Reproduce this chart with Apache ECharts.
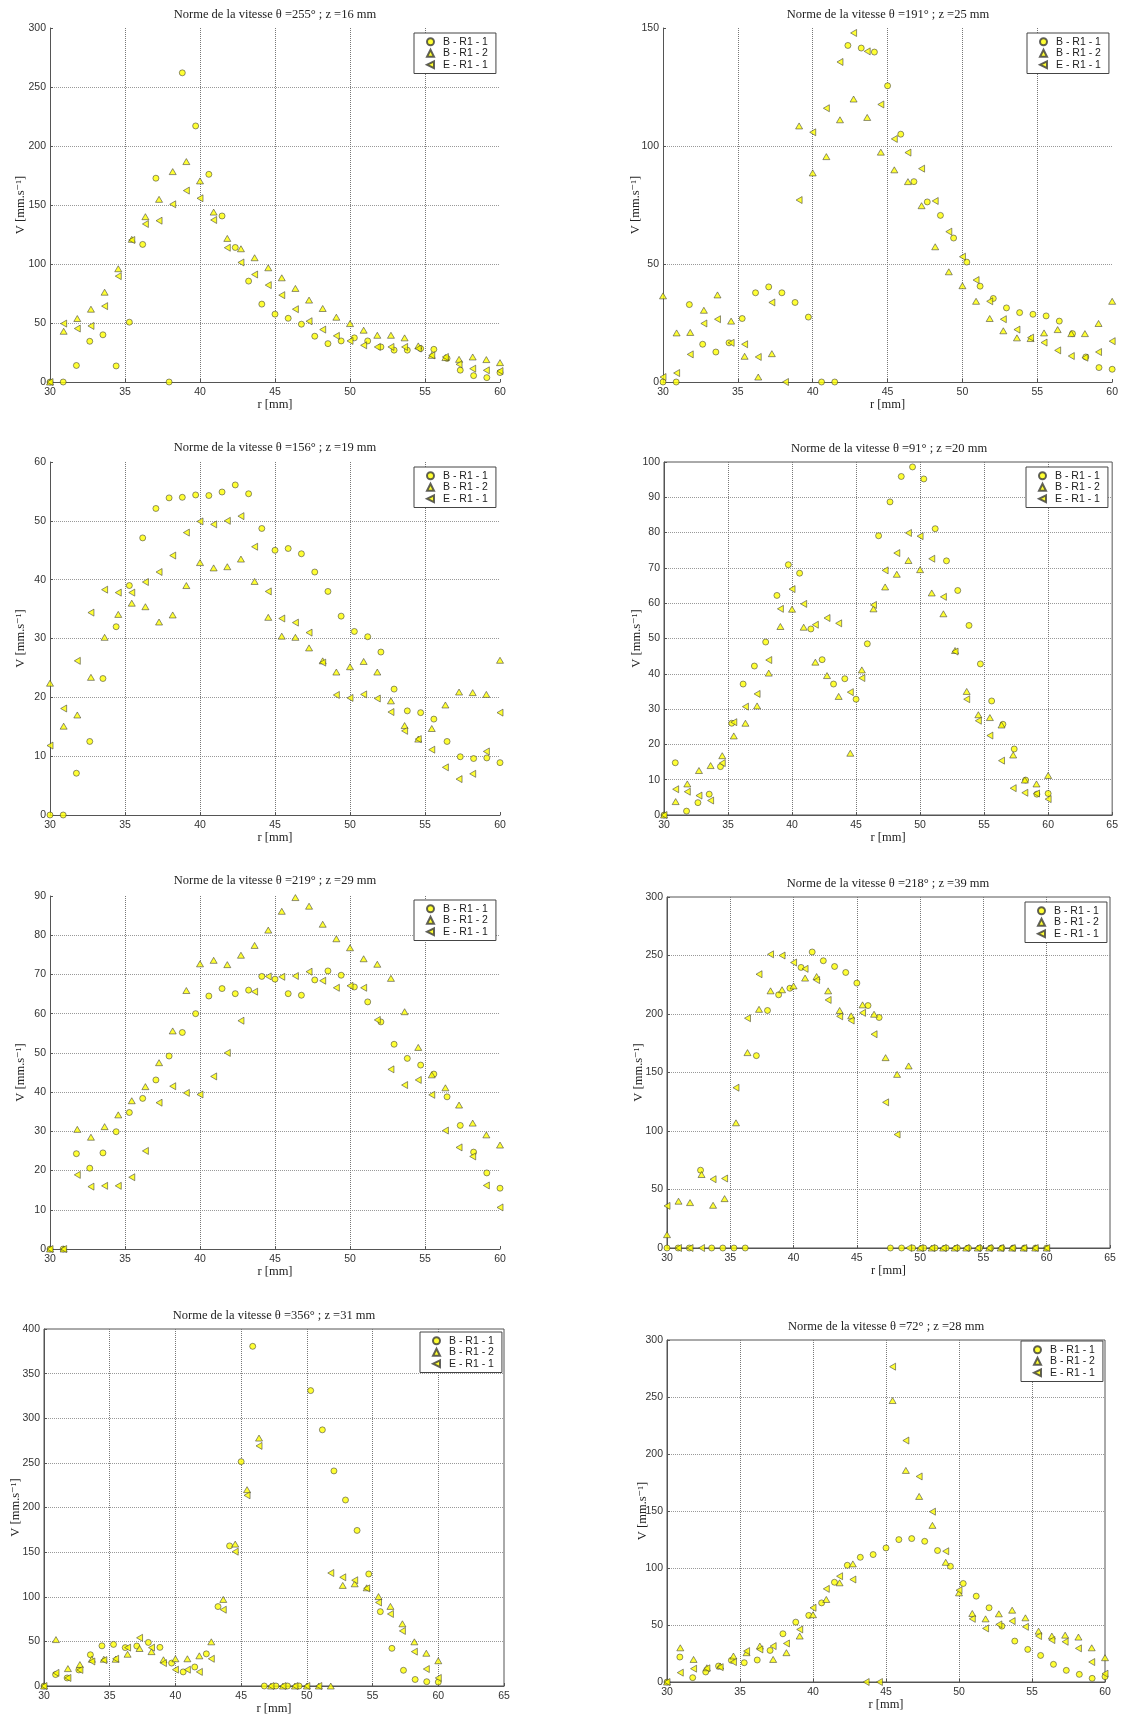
<!DOCTYPE html>
<html>
<head>
<meta charset="utf-8">
<script src="https://cdn.jsdelivr.net/npm/echarts@6/dist/echarts.min.js"></script>
<style>html,body{margin:0;padding:0;background:#fff;}#c{width:1121px;height:1724px;}</style>
</head>
<body>
<div id="c"></div>
<script>
// radial positions (mm) of the two measurement grids
const rA = [30,30.88,31.76,32.65,33.53,34.41,35.29,36.18,37.06,37.94,38.82,39.71,40.59,41.47,42.35,43.24,44.12,45,45.88,46.76,47.65,48.53,49.41,50.29,51.18,52.06,52.94,53.82,54.71,55.59,56.47,57.35,58.24,59.12,60];
const rB = [30,30.91,31.82,32.73,33.64,34.55,35.45,36.36,37.27,38.18,39.09,40,40.91,41.82,42.73,43.64,44.55,45.45,46.36,47.27,48.18,49.09,50,50.91,51.82,52.73,53.64,54.55,55.45,56.36,57.27,58.18,59.09,60];

const seriesNames = ['B - R1 - 1','B - R1 - 2','E - R1 - 1'];
const titles = [
  'Norme de la vitesse θ =255° ; z =16 mm',
  'Norme de la vitesse θ =191° ; z =25 mm',
  'Norme de la vitesse θ =156° ; z =19 mm',
  'Norme de la vitesse θ =91° ; z =20 mm',
  'Norme de la vitesse θ =219° ; z =29 mm',
  'Norme de la vitesse θ =218° ; z =39 mm',
  'Norme de la vitesse θ =356° ; z =31 mm',
  'Norme de la vitesse θ =72° ; z =28 mm'
];

// Panel 1
const p1_B1 = [0,0,14,34.5,40,13.6,50.7,116.6,172.7,0,262,217,176,140.7,114,85.5,66,57.5,54,49,38.8,32.5,34.8,37.4,34.8,29.7,27,27,28.3,27.7,20,10,5.4,3.7,8];
const p1_B2 = [0,43,53.8,61.7,76.1,96,120.9,140.1,154.8,178.3,186.8,170.4,144,121.7,112.9,105.3,96.8,88.3,79.3,69.4,62.3,54.9,49.5,43.9,39.6,39.6,37.4,30.6,22.6,20.7,19.2,21.2,19,16.4];
const p1_E1 = [0,49.5,45.3,47.5,64.3,89.7,120.3,133.9,136.7,150.6,162.2,155.7,137.3,113.8,101.3,91.1,82.1,73.6,61.7,51.5,44.4,39.1,34.8,31.1,29.7,29.7,29.7,28.3,22.6,21.2,15,11.3,9.9,9.3];
// Panel 2
const p2_B1 = [0,0,32.8,16,12.7,16.6,26.9,37.8,40.3,37.8,33.7,27.5,0,0,142.6,141.5,139.8,125.5,105,84.9,76.3,70.6,61,50.8,40.6,35.4,31.4,29.4,28.7,28,25.8,20.5,10.6,6.1,5.4];
const p2_B2 = [36.5,20.8,21,30.4,36.9,25.8,10.9,2.1,12,null,108.5,88.6,95.5,111.1,119.9,112.1,97.4,89.9,84.9,74.7,57.3,46.7,40.8,34.2,26.9,21.7,18.7,18.4,20.8,22.2,20.5,20.5,24.8,34.2];
const p2_E1 = [2.1,3.8,11.7,24.8,26.6,16.6,16,10.6,33.7,0,77.1,105.8,116,135.6,147.9,140.1,117.6,103,97.2,90.4,76.7,63.7,53.1,43.2,34.2,26.6,22.2,18.8,16.7,13.4,11,10.3,12.7,17.3];
// Panel 3
const p3_B1 = [0,0,7.1,12.5,23.2,32,39,47.1,52.1,53.9,54,54.4,54.3,54.9,56.1,54.6,48.7,45,45.3,44.4,41.3,38,33.8,31.2,30.3,27.7,21.4,17.7,17.4,16.3,12.5,9.9,9.6,9.7,8.9];
const p3_B2 = [22.4,15.1,17,23.4,30.2,34.1,36,35.4,32.8,34,39,42.9,42,42.2,43.5,39.7,33.6,30.4,30.2,28.4,26.2,24.3,25.2,26.1,24.3,19.4,15.2,12.9,14.7,18.7,20.9,20.8,20.5,26.3];
const p3_E1 = [11.8,18.1,26.2,34.4,38.3,37.8,37.8,39.6,41.3,44.1,48,49.9,49.4,50,50.8,45.6,38,33.4,32.7,31,25.9,20.4,19.9,20.5,19.8,17.5,14.3,12.9,11.1,8.1,6.1,7,10.8,17.4];
// Panel 4
const p4_B1 = [0,14.8,1.1,3.5,5.9,13.7,26,37.1,42.2,49,62.2,70.9,68.5,52.7,44,37.1,38.6,32.8,48.5,79.1,88.7,95.9,98.6,95.2,81.1,72,63.6,53.7,42.8,32.3,25.7,18.7,9.9,5.9,6.1];
const p4_B2 = [0,3.8,8.8,12.6,14,16.8,22.4,26,30.9,40.2,53.4,58.3,53.2,43.3,39.5,33.6,17.5,41.1,58.4,64.6,68.2,72.1,69.5,62.9,57,46.6,35,28.4,27.6,25.5,17,9.9,8.8,11.2];
const p4_E1 = [0,7.3,6.6,5.5,4.1,14.7,26.3,30.7,34.3,43.9,58.4,64,59.8,53.9,55.8,54.3,34.8,38.8,59.5,69.3,74.2,79.9,79,72.6,61.8,46.3,32.8,26.7,22.5,15.4,7.6,6.3,6.1,4.5];
// Panel 5
const p5_B1 = [0,0,24.3,20.6,24.5,29.9,34.8,38.4,43.1,49.2,55.2,60,64.5,66.4,65.1,66,69.5,68.8,65.1,64.7,68.6,70.9,69.8,66.8,63,57.9,52.2,48.6,46.9,44.6,38.8,31.5,24.7,19.4,15.5];
const p5_B2 = [0,0,30.5,28.5,31.2,34.2,37.8,41.4,47.5,55.6,65.9,72.7,73.6,72.5,74.9,77.4,81.3,86.1,89.6,87.4,82.8,79.1,76.8,74,72.6,69,60.5,51.4,44.4,41.1,36.7,32.1,29.1,26.5];
const p5_E1 = [0,0,18.9,15.9,16.1,16.1,18.3,25,37.3,41.5,39.8,39.4,44,50,58.2,65.6,69.5,69.4,69.6,70.7,68.4,66.6,67.1,66.6,58.4,45.8,41.8,43.1,39.3,30.2,25.9,23.6,16.2,10.6];
// Panel 6
const p6_B1 = [0,0,0,66.5,0,0,0,0,164.4,203,216.4,222,239.8,253,245.5,240.6,235.5,226.4,207.2,197,0,0,0,0,0,0,0,0,0,0,0,0,0,0,0];
const p6_B2 = [11.4,40,38.8,62.8,36.5,42.2,107,167,204,219.8,220.7,224,230.7,232,219.8,203,198.4,207.8,199.8,162.7,148.4,155.6,0,0,0,0,0,0,0,0,0,0,0,0];
const p6_E1 = [36,0,0,0,58.8,59.4,137,196.4,234,251,250,244,238.6,229,212,198,194.4,201,182.7,124.5,97,0,0,0,0,0,0,0,0,0,0,0,0,0];
// Panel 7
const p7_B1 = [0,12.8,9,18,35,45,46.6,43,44.8,48.8,43.3,25.7,15.8,21.3,36,89,157,251.4,380.6,0,0,0,0,331,287,241,208.4,174.3,125.5,83.3,42.2,17.6,7.3,4.8,4.4];
const p7_B2 = [0,52,19.5,24,30,30,30,35.6,42,38.5,29.4,30.5,30.5,33.8,49.5,97,159,220,277.8,0,0,0,0,0,0,112.7,114.5,110,100.2,89.2,69.7,49.5,36.7,28.3];
const p7_E1 = [0,14.7,9,18,27.5,29,30.5,43,54,43,25.7,18.3,18.3,15.8,30.5,85.5,150.5,213.6,269,0,0,0,0,0,126.6,121.8,118.5,109.4,93.6,80.7,61.7,38.5,19,9];
// Panel 8
const p8_B1 = [0,21.9,3.8,8.8,14,19,16.9,19.3,27.7,42.3,52.5,58.4,69.4,87.5,102.4,109.4,111.8,117.6,124.9,125.8,123.4,115.3,101.5,86.4,75.3,65.1,49,35.9,28.6,23.3,15.5,10.2,6.7,3.2,4.7];
const p8_B2 = [0,30,19.8,12.5,14,22.8,25.7,31.5,19.8,25.7,40.3,59,72.4,87,103.6,null,null,246.9,185.6,162.8,137.4,105,78.2,60.1,55.4,59.8,63,56.3,44.6,40.3,41.1,39.4,30,21.3];
const p8_E1 = [0,8.2,11.7,12,13,17.5,27.1,28.6,31.5,33.8,46.1,65.1,81.7,92.8,89.9,0,0,276.6,211.8,180.3,149.4,114.7,80.5,55.4,47,50.5,53.4,48.4,40.3,36.8,35.3,29.5,17.5,7.3];

const panelData = [
  [p1_B1,p1_B2,p1_E1],[p2_B1,p2_B2,p2_E1],[p3_B1,p3_B2,p3_E1],[p4_B1,p4_B2,p4_E1],
  [p5_B1,p5_B2,p5_E1],[p6_B1,p6_B2,p6_E1],[p7_B1,p7_B2,p7_E1],[p8_B1,p8_B2,p8_E1]
];
const xMaxs = [60,60,60,65,60,65,65,60];
const yMaxs = [300,150,60,100,90,300,400,300];
const yIntervals = [50,50,10,10,10,50,50,50];

// layout (pixels)
const layout = [
  {left:50,  top:28,   width:450, height:354, box:false, tx:275, ty:8.5,    lg:[414,33],   yGap:23},
  {left:663, top:28,   width:450, height:354, box:false, tx:888, ty:8.5,    lg:[1027,33],  yGap:21},
  {left:50,  top:462,  width:450, height:353, box:false, tx:275, ty:441.5,  lg:[414,467],  yGap:23},
  {left:664, top:462,  width:450, height:353, box:true,  tx:889, ty:442.5,  lg:[1026,467], yGap:21},
  {left:50,  top:896,  width:450, height:353, box:false, tx:275, ty:874.5,  lg:[414,900],  yGap:23},
  {left:667, top:897,  width:443, height:351, box:true,  tx:888, ty:877.5,  lg:[1025,902], yGap:22},
  {left:44,  top:1329, width:460, height:357, box:true,  tx:274, ty:1309.5, lg:[420,1332], yGap:22},
  {left:667, top:1340, width:438, height:342, box:true,  tx:886, ty:1320.5, lg:[1021,1341],yGap:18}
];

const SANS = 'Liberation Sans, Arial, sans-serif';
const SERIF = 'Liberation Serif, DejaVu Serif, serif';
const leftTri = 'path://M10,0 L10,10 L0,5 Z';
const symbols = ['circle','triangle',leftTri];
const symbolSizes = [6,[7,6],[6,7]];
const markStyle = {color:'#ffff00', borderColor:'#3a3a3a', borderWidth:0.7};

function pairs(r, v){ const out=[]; for(let i=0;i<v.length;i++){ if(v[i]!==null) out.push([r[i], v[i]]); } return out; }

const grids=[], xAxes=[], yAxes=[], series=[], titleArr=[], legends=[];
layout.forEach((L,i)=>{
  grids.push({left:L.left, top:L.top, width:L.width, height:L.height, show:L.box, borderColor:'#555', borderWidth:1, backgroundColor:'transparent', containLabel:false});
  xAxes.push({gridIndex:i, type:'value', min:30, max:xMaxs[i], interval:5,
    axisLine:{show:true, onZero:false, lineStyle:{color:'#555', width:1}},
    axisTick:{show:true, inside:true, length:3, lineStyle:{color:'#555'}},
    axisLabel:{fontSize:10.5, color:'#333', margin:5, fontFamily:SANS},
    splitLine:{show:true, showMinLine:false, showMaxLine:false, lineStyle:{type:'dotted', color:'#777', width:1}},
    name:'r [mm]', nameLocation:'middle', nameGap:16, nameMoveOverlap:false,
    nameTextStyle:{fontFamily:SERIF, fontSize:12.5, color:'#222'}});
  yAxes.push({gridIndex:i, type:'value', min:0, max:yMaxs[i], interval:yIntervals[i],
    axisLine:{show:true, onZero:false, lineStyle:{color:'#555', width:1}},
    axisTick:{show:true, inside:true, length:3, lineStyle:{color:'#555'}},
    axisLabel:{fontSize:10.5, color:'#333', margin:4, fontFamily:SANS},
    splitLine:{show:true, showMinLine:false, showMaxLine:false, lineStyle:{type:'dotted', color:'#999', width:1}},
    name:'V [mm.s⁻¹]', nameLocation:'middle', nameRotate:90, nameGap:L.yGap, nameMoveOverlap:false,
    nameTextStyle:{fontFamily:SERIF, fontSize:12.5, color:'#222'}});
  titleArr.push({text:titles[i], left:L.tx, top:L.ty, textAlign:'center', padding:0,
    textStyle:{fontFamily:SERIF, fontSize:12.5, fontWeight:'normal', color:'#222'}});
  legends.push({left:L.lg[0], top:L.lg[1], orient:'vertical', itemWidth:7, itemHeight:7, itemGap:0,
    padding:[3,8,3,12], borderColor:'#444', borderWidth:1, backgroundColor:'#fff',
    selectedMode:false,
    textStyle:{fontFamily:SANS, fontSize:10.5, color:'#222', lineHeight:11.5, padding:[0,0,0,4]},
    data:seriesNames.map((n,k)=>({name:n, icon:symbols[k]}))});
  panelData[i].forEach((vals,k)=>{
    series.push({type:'scatter', name:seriesNames[k], xAxisIndex:i, yAxisIndex:i,
      data:pairs(k===0?rA:rB, vals), symbol:symbols[k], symbolSize:symbolSizes[k],
      itemStyle:markStyle, clip:false, animation:false, emphasis:{disabled:true}});
  });
});

const chart = echarts.init(document.getElementById('c'), null, {renderer:'canvas'});
chart.setOption({
  backgroundColor:'#fff', animation:false,
  title:titleArr, legend:legends, grid:grids, xAxis:xAxes, yAxis:yAxes, series:series
});
</script>
</body>
</html>
